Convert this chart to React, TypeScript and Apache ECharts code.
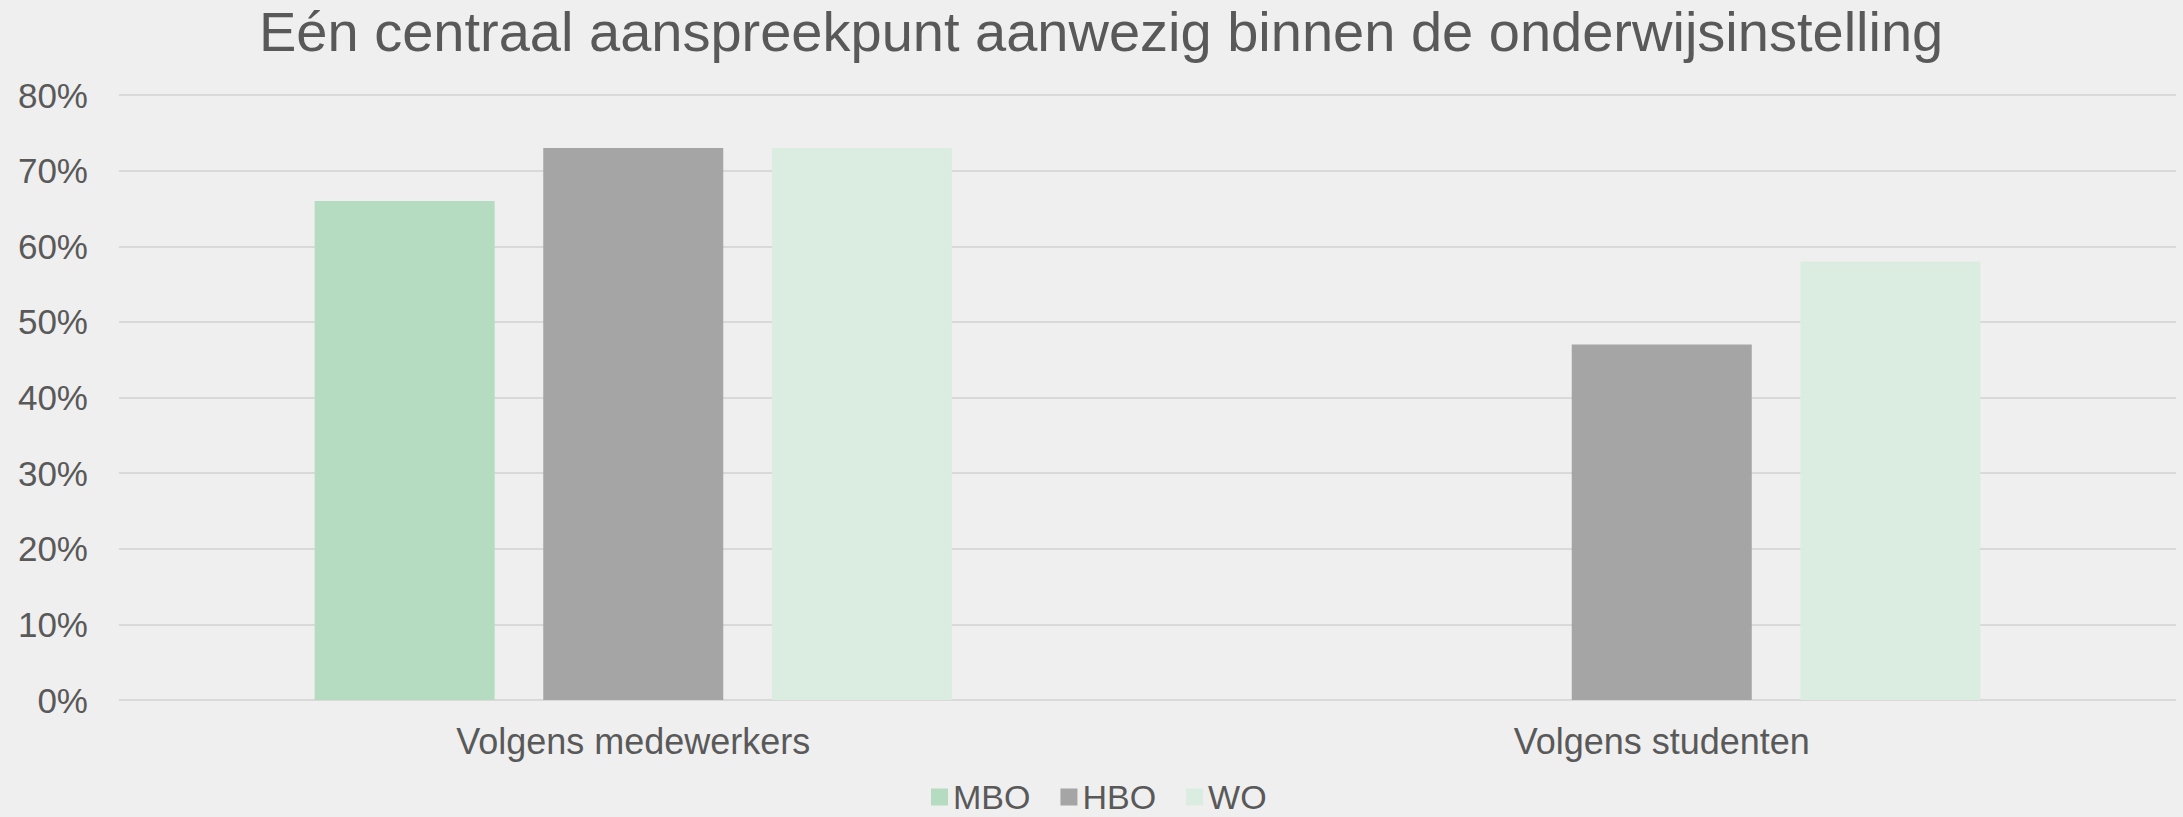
import React, { useEffect, useRef } from "react";
import * as echarts from "echarts";

const categories = ["Volgens medewerkers", "Volgens studenten"];
const seriesNames = ["MBO", "HBO", "WO"];
const mboValues: (number | null)[] = [66, null];
const hboValues: (number | null)[] = [73, 47];
const woValues: (number | null)[] = [73, 58];
const colors = ["#b5dbc1", "#a5a5a5", "#dbede1"];
const titleText = "Eén centraal aanspreekpunt aanwezig binnen de onderwijsinstelling";

export default function App() {
  const ref = useRef<HTMLDivElement>(null);
  useEffect(() => {
    document.body.style.margin = "0";
    const chart = echarts.init(ref.current!, null, { renderer: "svg" });
    const font = "Liberation Sans";
    const txt = "#595959";
    const data = [mboValues, hboValues, woValues];
    chart.setOption({
      animation: false,
      backgroundColor: "#efefef",
      title: {
        text: titleText,
        left: 259,
        top: 3,
        padding: 0,
        textStyle: { fontFamily: font, fontSize: 56, fontWeight: "normal", color: txt, lineHeight: 56 },
      },
      legend: {
        data: seriesNames,
        top: 780,
        left: 931,
        padding: 0,
        itemWidth: 17,
        itemHeight: 17,
        itemGap: 30,
        icon: "rect",
        textStyle: { fontFamily: font, fontSize: 34, color: txt, lineHeight: 34 },
      },
      grid: { left: 119, right: 7, top: 95, bottom: 117, containLabel: false },
      xAxis: {
        type: "category",
        data: categories,
        axisLine: { show: false },
        axisTick: { show: false },
        axisLabel: { fontFamily: font, fontSize: 36, color: txt, margin: 23 },
      },
      yAxis: {
        type: "value",
        min: 0,
        max: 80,
        interval: 10,
        axisLine: { show: false },
        axisTick: { show: false },
        splitLine: { lineStyle: { color: "#d9d9d9", width: 2 } },
        axisLabel: { fontFamily: font, fontSize: 35, color: txt, margin: 31, formatter: "{value}%" },
      },
      series: seriesNames.map((name, i) => ({
        name,
        type: "bar",
        data: data[i],
        itemStyle: { color: colors[i] },
        barWidth: 180,
        barGap: "27%",
        barCategoryGap: "38%",
      })),
    });
    return () => chart.dispose();
  }, []);
  return <div ref={ref} style={{ width: 2183, height: 817 }} />;
}
